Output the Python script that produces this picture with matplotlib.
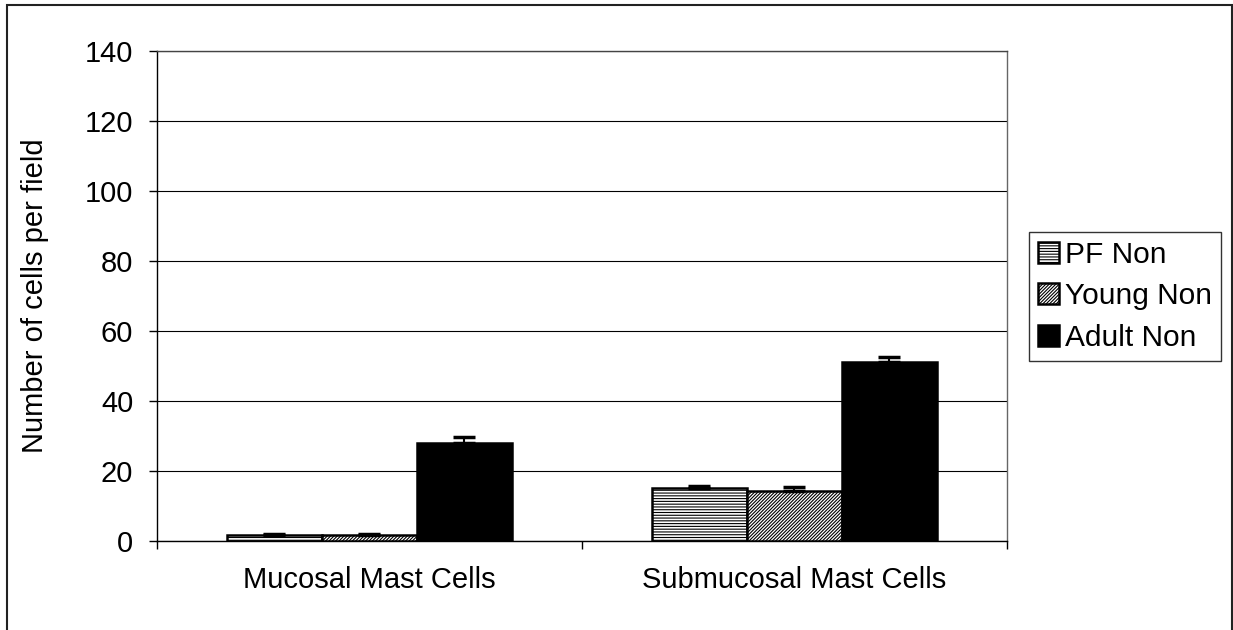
import matplotlib.pyplot as plt
import matplotlib.patches as mpatches
import numpy as np

plt.rcParams['font.family'] = ['Liberation Sans', 'DejaVu Sans']
plt.rcParams['hatch.linewidth'] = 0.8

# data
categories = ["Mucosal Mast Cells", "Submucosal Mast Cells"]
series = ["PF Non", "Young Non", "Adult Non"]
pf_non = [1.8, 15.1]
young_non = [1.7, 14.2]
adult_non = [28.0, 51.2]
pf_err = [0.2, 0.7]
young_err = [0.2, 1.2]
adult_err = [1.8, 1.3]

values = [pf_non, young_non, adult_non]
errors = [pf_err, young_err, adult_err]
hatches = ['------', '//////////', None]
faces = ['white', 'white', 'black']

fig = plt.figure(figsize=(12.33, 6.3), dpi=100)
ax = fig.add_axes([0.1273, 0.1413, 0.6894, 0.7778])

x = np.arange(len(categories))
w = 0.2235
for i, (vals, errs) in enumerate(zip(values, errors)):
    pos = x + (i - 1) * w
    ax.bar(pos, vals, width=w, color=faces[i], edgecolor='black',
           hatch=hatches[i], linewidth=1.8, label=series[i], zorder=3)
    ax.errorbar(pos, vals, yerr=[np.zeros(len(errs)), errs], fmt='none',
                ecolor='black', elinewidth=1.5, capsize=8, capthick=2.5, zorder=4)

ax.set_xlim(-0.5, 1.5)
ax.set_ylim(0, 140)
ax.set_yticks(np.arange(0, 141, 20))
ax.set_xticks(x)
ax.set_xticklabels(categories)
ax.set_xticks([-0.5, 0.5, 1.5], minor=True)
ax.tick_params(axis='x', which='major', length=0, pad=18, labelsize=21)
ax.tick_params(axis='x', which='minor', length=6, direction='out', width=1)
ax.tick_params(axis='y', length=6, width=1, labelsize=21, pad=11)
ax.grid(axis='y', color='black', linewidth=0.8, zorder=0)
ax.set_axisbelow(True)
for s in ax.spines.values():
    s.set_linewidth(1.0)
ax.spines['left'].set_color('black')
ax.spines['top'].set_color('#444444')
ax.spines['right'].set_color('#666666')
ax.set_ylabel("Number of cells per field", fontsize=21, labelpad=26)

leg = fig.legend(loc='upper left', bbox_to_anchor=(0.8345, 0.632), fontsize=21.5,
                 frameon=True, fancybox=False, handlelength=0.72, handleheight=0.72,
                 handletextpad=0.2, labelspacing=0.45, borderpad=0.3,
                 borderaxespad=0)
leg.get_frame().set_edgecolor('black')
leg.get_frame().set_linewidth(1.0)

# outer border of the figure (open at the bottom)
fig.add_artist(mpatches.Rectangle((7 / 1233, -0.1), (1232 - 7) / 1233, 0.992 + 0.1,
                                  transform=fig.transFigure, fill=False,
                                  edgecolor='#222222', linewidth=1.5, clip_on=False))

fig.savefig("out.png", dpi=100)
